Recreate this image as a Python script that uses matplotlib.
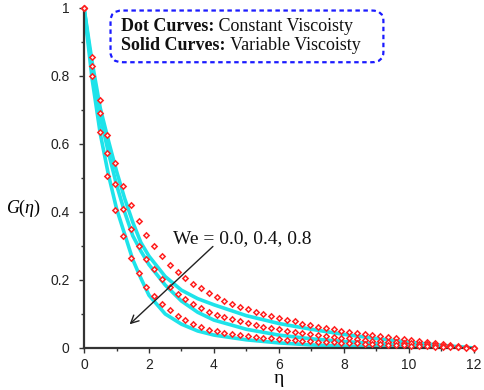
import matplotlib
matplotlib.use('Agg')
import matplotlib.pyplot as plt
from matplotlib.patches import FancyBboxPatch
from matplotlib.ticker import MultipleLocator

plt.rcParams['mathtext.fontset'] = 'custom'
plt.rcParams['mathtext.rm'] = 'Liberation Serif'
plt.rcParams['mathtext.it'] = 'Liberation Serif:italic'
plt.rcParams['mathtext.bf'] = 'Liberation Serif:bold'

# solid curves (variable viscosity), We = 0.0, 0.4, 0.8
eta_s = [0, 0.25, 0.5, 0.75, 1.0, 1.25, 1.5, 1.75, 2.0, 2.5, 3.0, 3.5, 4.0,
         5.0, 6.0, 7.0, 8.0, 9.0, 10.0, 11.0, 12.0]
g_s_we00 = [1.0, 0.84, 0.705, 0.61, 0.52, 0.44, 0.37, 0.31, 0.27, 0.21, 0.17, 0.145,
            0.127, 0.095, 0.072, 0.055, 0.04, 0.028, 0.017, 0.008, 0.0]
g_s_we04 = [1.0, 0.82, 0.68, 0.575, 0.48, 0.40, 0.33, 0.285, 0.245, 0.185, 0.138, 0.105,
            0.082, 0.055, 0.038, 0.027, 0.019, 0.013, 0.008, 0.004, 0.0]
g_s_we08 = [1.0, 0.79, 0.63, 0.51, 0.41, 0.335, 0.26, 0.205, 0.155, 0.10, 0.07, 0.05,
            0.038, 0.024, 0.015, 0.009, 0.006, 0.004, 0.0025, 0.0012, 0.0]

# dotted curves (constant viscosity)
eta_d = [0.0, 0.24, 0.48, 0.72, 0.96, 1.2, 1.44, 1.68, 1.92, 2.16, 2.4, 2.64, 2.88,
         3.12, 3.36, 3.6, 3.84, 4.08, 4.32, 4.56, 4.8, 5.04, 5.28, 5.52, 5.76, 6.0,
         6.24, 6.48, 6.72, 6.96, 7.2, 7.44, 7.68, 7.92, 8.16, 8.4, 8.64, 8.88, 9.12,
         9.36, 9.6, 9.84, 10.08, 10.32, 10.56, 10.8, 11.04, 11.28, 11.52, 11.76, 12.0]
g_d_we00 = [1.0, 0.856, 0.728, 0.626, 0.544, 0.476, 0.42, 0.373, 0.333, 0.299, 0.271,
            0.245, 0.224, 0.206, 0.189, 0.175, 0.163, 0.151, 0.139, 0.13, 0.121, 0.114,
            0.107, 0.101, 0.095, 0.089, 0.083, 0.078, 0.072, 0.067, 0.063, 0.059, 0.055,
            0.051, 0.048, 0.045, 0.041, 0.038, 0.035, 0.032, 0.029, 0.026, 0.023, 0.021,
            0.018, 0.015, 0.012, 0.009, 0.006, 0.003, 0.0]
g_d_we04 = [1.0, 0.83, 0.69, 0.574, 0.482, 0.41, 0.351, 0.30, 0.263, 0.231, 0.202,
            0.179, 0.16, 0.144, 0.13, 0.118, 0.107, 0.098, 0.091, 0.084, 0.078, 0.073,
            0.068, 0.063, 0.059, 0.055, 0.051, 0.048, 0.044, 0.041, 0.038, 0.034, 0.032,
            0.03, 0.028, 0.026, 0.024, 0.022, 0.02, 0.019, 0.017, 0.016, 0.014, 0.012,
            0.011, 0.009, 0.007, 0.005, 0.004, 0.002, 0.0]
g_d_we08 = [1.0, 0.80, 0.635, 0.506, 0.405, 0.329, 0.266, 0.219, 0.18, 0.152, 0.128,
            0.111, 0.094, 0.081, 0.071, 0.062, 0.054, 0.049, 0.045, 0.041, 0.038, 0.035,
            0.032, 0.03, 0.028, 0.026, 0.024, 0.023, 0.021, 0.02, 0.019, 0.018, 0.017,
            0.016, 0.015, 0.014, 0.013, 0.012, 0.011, 0.01, 0.009, 0.008, 0.007, 0.006,
            0.005, 0.004, 0.003, 0.002, 0.0015, 0.001, 0.0]

fig = plt.figure(figsize=(4.84, 3.9), dpi=100)
ax = fig.add_axes([0.1736, 0.1077, 0.8054, 0.8723])

for g in (g_s_we00, g_s_we04, g_s_we08):
    ax.plot(eta_s, g, color='#1ee3ea', lw=2.6, solid_capstyle='round', zorder=2)

for g in (g_d_we00, g_d_we04, g_d_we08):
    ax.plot(eta_d, g, ls='none', marker='D', ms=2.7, mec='#ff2020', mfc='#fff4f4',
            mew=1.1, zorder=3, clip_on=False)

ax.set_xlim(0, 12)
ax.set_ylim(0, 1)
ax.set_xticks([0, 2, 4, 6, 8, 10, 12])
ax.set_yticks([0, 0.2, 0.4, 0.6, 0.8, 1.0])
ax.set_yticklabels(['0', '0.2', '0.4', '0.6', '0.8', '1'])
ax.xaxis.set_minor_locator(MultipleLocator(1))
ax.yaxis.set_minor_locator(MultipleLocator(0.1))
ax.tick_params(which='both', direction='out', color='#333333', width=1)
ax.tick_params(which='major', length=3.5, labelsize=10, labelcolor='#222222')
ax.tick_params(which='minor', length=2)
ax.tick_params(axis='y', which='major', pad=7)
for lab in ax.get_xticklabels() + ax.get_yticklabels():
    lab.set_family('Liberation Sans')

for side in ('top', 'right'):
    ax.spines[side].set_visible(False)
for side in ('left', 'bottom'):
    ax.spines[side].set_linewidth(1.6)
    ax.spines[side].set_color('#333333')

ax.set_xlabel('η', fontsize=14, family='Liberation Serif', labelpad=-1)
ax.text(-0.11, 0.41, r'$G(\eta)$', transform=ax.transAxes, fontsize=13,
        ha='right', va='center')

box = FancyBboxPatch((0.068, 0.84), 0.70, 0.152, boxstyle='round,pad=0,rounding_size=0.03',
                     transform=ax.transAxes, fill=False, edgecolor='#1a1aff',
                     lw=1.6, ls=(0, (2, 1.6)), clip_on=False)
ax.add_patch(box)
rows = [('Dot Curves:', ' Constant Viscoisty', 0.944),
        ('Solid Curves:', ' Variable Viscoisty', 0.889)]
for bold, rest, yy in rows:
    t = ax.text(0.095, yy, bold, transform=ax.transAxes, fontsize=13,
                family='Liberation Serif', weight='bold', va='center', color='#111111')
    ax.annotate(rest, xy=(1, 0.5), xycoords=t, va='center', ha='left',
                fontsize=13, family='Liberation Serif', color='#111111')

ax.annotate('', xy=(1.34, 0.064), xytext=(4.03, 0.304),
            arrowprops=dict(arrowstyle='->', color='#222222', lw=1.0,
                            mutation_scale=14))
ax.text(2.74, 0.323, 'We = 0.0, 0.4, 0.8', fontsize=14, family='Liberation Serif',
        va='center', ha='left', color='#111111')

fig.savefig('out.png', dpi=100)
